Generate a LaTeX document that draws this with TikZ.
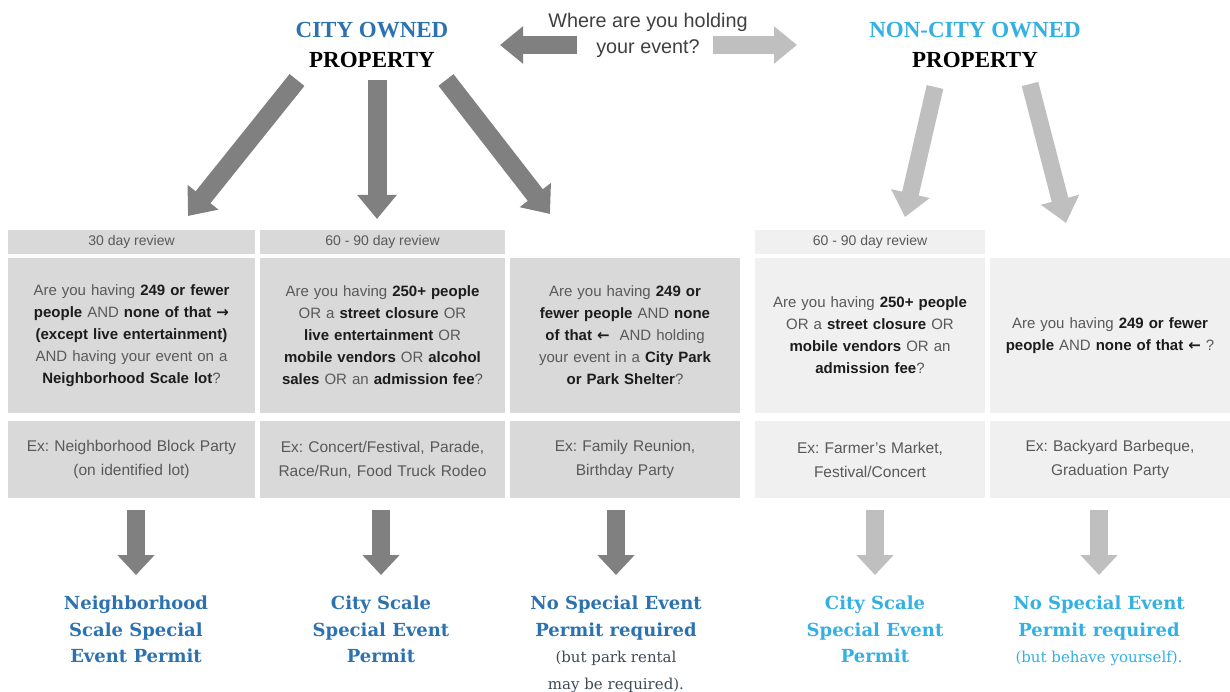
\documentclass[tikz,border=0pt]{standalone}
\usepackage{fontspec}
\setmainfont{Liberation Sans}
\newfontfamily\titlefont{Liberation Serif}
\newfontfamily\permitfont{DejaVu Serif}
\newfontfamily\arrowfont{DejaVu Sans}
\usetikzlibrary{arrows.meta, positioning}
\definecolor{city_blue}{RGB}{44, 114, 176}
\definecolor{noncity_blue}{RGB}{52, 176, 226}
\definecolor{dark_arrow}{RGB}{128, 128, 128}
\definecolor{light_arrow}{RGB}{191, 191, 191}
\definecolor{dark_box}{RGB}{217, 217, 217}
\definecolor{light_box}{RGB}{240, 240, 240}
\definecolor{box_text}{RGB}{89, 89, 89}
\definecolor{key_text}{RGB}{28, 28, 28}
\definecolor{note_text}{RGB}{60, 74, 88}
\newcommand{\kw}[1]{{\bfseries\color{key_text}#1}}
\newcommand{\rarr}{{\arrowfont\bfseries →}}
\newcommand{\larr}{{\arrowfont\bfseries ←}}
\newcommand{\notefont}{\permitfont\mdseries\fontsize{15}{26.5}\selectfont}
\tikzset {
  title/.style = {align=center, font=\titlefont\bfseries\fontsize{23}{30}\selectfont},
  ask/.style = {align=center, text=black!75, font=\fontsize{19.8}{26}\selectfont},
  bigarrow/.style = {line width=19pt, -{Triangle[length=24pt, width=38pt]}},
  sidearrow/.style = {line width=18pt, -{Triangle[length=23pt, width=36pt]}},
  downarrow/.style = {line width=18pt, -{Triangle[length=20pt, width=36pt]}, shorten <=12pt, shorten >=21pt},
  review/.style = {minimum width=#1, minimum height=24pt, inner sep=0pt, outer sep=0pt, text=box_text, font=\fontsize{14}{16}\selectfont},
  question/.style = {text width=#1, minimum height=155pt, inner sep=0pt, outer sep=0pt, align=center, text=box_text, font=\fontsize{15}{22}\selectfont},
  example/.style = {text width=#1, minimum height=77pt, inner sep=0pt, outer sep=0pt, align=center, text=box_text, font=\fontsize{15.5}{24}\selectfont},
  permit/.style = {anchor=north, inner sep=0pt, align=center, font=\permitfont\bfseries\fontsize{18}{26.5}\selectfont}
}

\begin{document}
\frenchspacing
\begin{tikzpicture}[x=1pt, y=-1pt]
    \useasboundingbox (0,0) rectangle (1230,692);

    % top row
    \node[title, text=city_blue] (city) at (372,45) {CITY OWNED\\{\color{black}PROPERTY}};
    \node[title, text=noncity_blue] (noncity) at (975,45) {NON-CITY OWNED\\{\color{black}PROPERTY}};
    \node[ask] (ask) at (648,35) {Where are you holding\\your event?};

    \coordinate (askl) at (577,45);
    \coordinate (askr) at (713,45);
    \coordinate (cityl) at (500,45);
    \coordinate (noncityr) at (797,45);
    \draw[sidearrow, dark_arrow] (askl) -- (cityl);
    \draw[sidearrow, light_arrow] (askr) -- (noncityr);

    % city owned boxes
    \node[review=247pt, fill=dark_box, anchor=north west] (hdr1) at (8,230) {30 day review};
    \node[review=245pt, fill=dark_box, right=5pt of hdr1] (hdr2) {60 - 90 day review};
    \node[question=247pt, fill=dark_box, below=4pt of hdr1] (q1) {Are you having \kw{249 or fewer}\\
        \kw{people} AND \kw{none of that \rarr}\\
        \kw{(except live entertainment)}\\
        AND having your event on a\\
        \kw{Neighborhood Scale lot}?};
    \node[question=245pt, fill=dark_box, below=4pt of hdr2] (q2) {Are you having \kw{250+ people}\\
        OR a \kw{street closure} OR\\
        \kw{live entertainment} OR\\
        \kw{mobile vendors} OR \kw{alcohol}\\
        \kw{sales} OR an \kw{admission fee}?};
    \node[question=230pt, fill=dark_box, right=5pt of q2] (q3) {Are you having \kw{249 or}\\
        \kw{fewer people} AND \kw{none}\\
        \kw{of that \larr} \ AND holding\\
        your event in a \kw{City Park}\\
        \kw{or Park Shelter}?};
    \node[example=247pt, fill=dark_box, below=8pt of q1] (ex1) {Ex: Neighborhood Block Party\\(on identified lot)};
    \node[example=245pt, fill=dark_box, below=8pt of q2] (ex2) {Ex: Concert/Festival, Parade,\\Race/Run, Food Truck Rodeo};
    \node[example=230pt, fill=dark_box, below=8pt of q3] (ex3) {Ex: Family Reunion,\\Birthday Party};

    % non-city owned boxes
    \node[review=230pt, fill=light_box, anchor=north west] (hdr4) at (755,230) {60 - 90 day review};
    \node[question=230pt, fill=light_box, below=4pt of hdr4] (q4) {Are you having \kw{250+ people}\\
        OR a \kw{street closure} OR\\
        \kw{mobile vendors} OR an\\
        \kw{admission fee}?};
    \node[question=240pt, fill=light_box, right=5pt of q4] (q5) {Are you having \kw{249 or fewer}\\
        \kw{people} AND \kw{none of that \larr} ?};
    \node[example=230pt, fill=light_box, below=8pt of q4] (ex4) {Ex: Farmer's Market,\\Festival/Concert};
    \node[example=240pt, fill=light_box, below=8pt of q5] (ex5) {Ex: Backyard Barbeque,\\Graduation Party};

    % arrows from the titles
    \coordinate (c1a) at (297,80);
    \coordinate (c1b) at (188,216);
    \coordinate (c2a) at (377,80);
    \coordinate (c2b) at (377,219);
    \coordinate (c3a) at (446,80);
    \coordinate (c3b) at (550,214);
    \coordinate (n1a) at (935,87);
    \coordinate (n1b) at (905,217);
    \coordinate (n2a) at (1030,84);
    \coordinate (n2b) at (1066,223);
    \draw[bigarrow, dark_arrow] (c1a) -- (c1b);
    \draw[bigarrow, dark_arrow] (c2a) -- (c2b);
    \draw[bigarrow, dark_arrow] (c3a) -- (c3b);
    \draw[bigarrow, light_arrow, line width=17pt] (n1a) -- (n1b);
    \draw[bigarrow, light_arrow, line width=17pt] (n2a) -- (n2b);

    % permits
    \node[permit, text=city_blue] (p1) at (136,596) {Neighborhood\\Scale Special\\Event Permit};
    \node[permit, text=city_blue] (p2) at (381,596) {City Scale\\Special Event\\Permit};
    \node[permit, text=city_blue] (p3) at (616,596) {No Special Event\\Permit required\\
        {\notefont\color{note_text}(but park rental}\\{\notefont\color{note_text}may be required).}};
    \node[permit, text=noncity_blue] (p4) at (875,596) {City Scale\\Special Event\\Permit};
    \node[permit, text=noncity_blue] (p5) at (1099,596) {No Special Event\\Permit required\\{\notefont(but behave yourself).}};

    \draw[downarrow, dark_arrow] (p1.north |- ex1.south) -- (p1.north);
    \draw[downarrow, dark_arrow] (p2.north |- ex2.south) -- (p2.north);
    \draw[downarrow, dark_arrow] (p3.north |- ex3.south) -- (p3.north);
    \draw[downarrow, light_arrow] (p4.north |- ex4.south) -- (p4.north);
    \draw[downarrow, light_arrow] (p5.north |- ex5.south) -- (p5.north);

  \end{tikzpicture}
\end{document}
